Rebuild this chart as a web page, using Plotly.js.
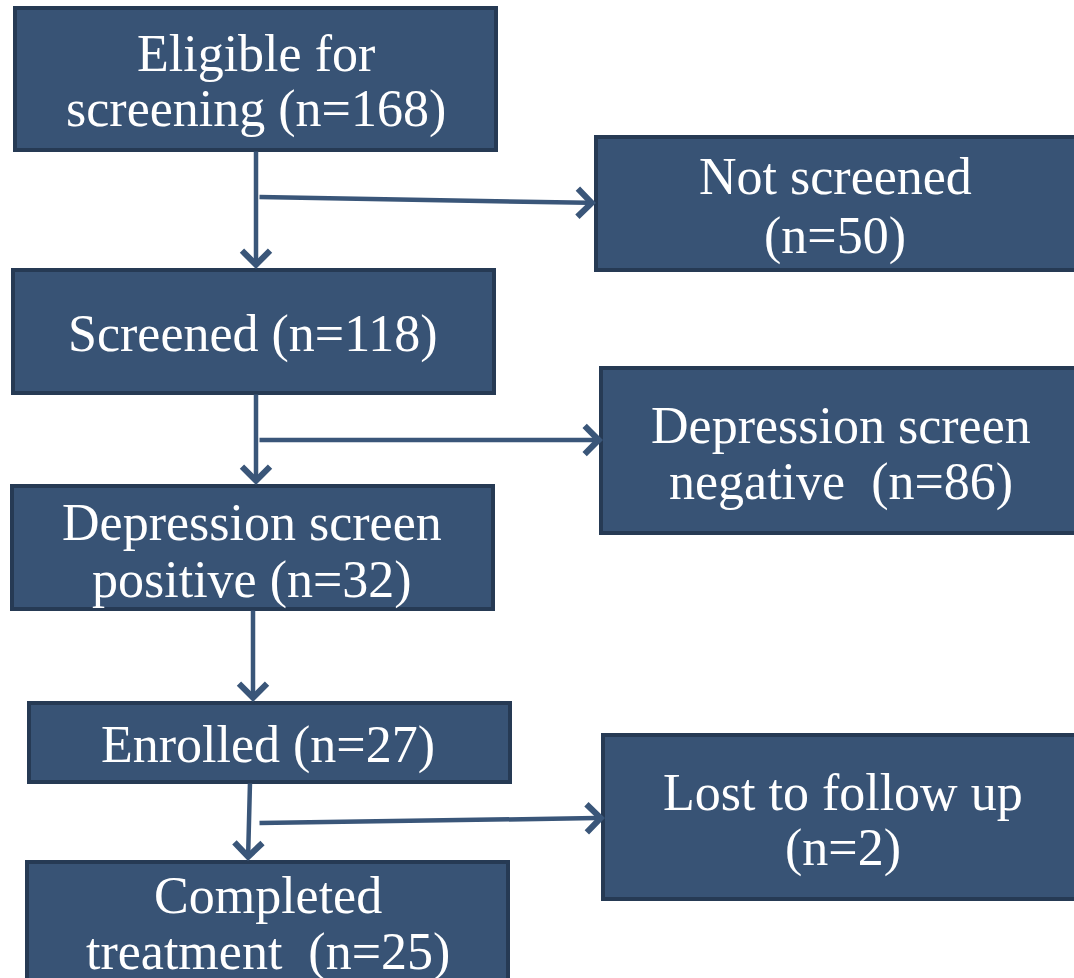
<!DOCTYPE html>
<html>
<head>
<meta charset="utf-8">
<script src="https://cdn.plot.ly/plotly-3.0.1.min.js"></script>
<style>html,body{margin:0;padding:0;background:#fff;}#chart{width:1074px;height:978px;}</style>
</head>
<body>
<div id="chart"></div>
<script>
// ---- Data: flowchart stages and counts ----
var stageNames = [
  ["Eligible for", "screening"],
  ["Not screened", ""],
  ["Screened", ""],
  ["Depression screen", "negative\u00a0"],
  ["Depression screen", "positive"],
  ["Enrolled", ""],
  ["Lost to follow up", ""],
  ["Completed", "treatment\u00a0"]
];
var stageCounts = [168, 50, 118, 86, 32, 27, 2, 25];
// which line the count goes on (0 = first, 1 = second)
var countLine = [1, 1, 0, 1, 1, 0, 1, 1];

// ---- Layout geometry (pixels) ----
var boxX0 = [15, 596, 13, 601, 12, 29, 603, 27];
var boxX1 = [496, 1082, 494, 1082, 493, 510, 1082, 508];
var boxY0 = [8, 137, 270, 368, 486, 703, 735, 862];
var boxY1 = [150, 270, 393, 533, 609, 782, 899, 990];
var textX = [256, 835, 253, 841, 252, 268, 843, 268];
var textY1 = [53, 176, 334, 425, 522, 745, 792, 895];
var textY2 = [109, 236, null, 482, 580, null, 848, 952];

// arrows: [tailX, tailY, headX, headY]
var arrowTailX = [256, 258, 256, 258, 253, 250, 258];
var arrowTailY = [150, 197, 393, 440, 609, 782, 823];
var arrowHeadX = [256, 596, 256, 603, 253, 248, 605];
var arrowHeadY = [269, 203, 485, 440, 702, 861, 818];

var fillColor = '#385375';
var borderColor = '#263a54';
var arrowColor = '#3a5679';

var shapes = [];
var annotations = [];
for (var i = 0; i < stageNames.length; i++) {
  shapes.push({
    type: 'rect', xref: 'x', yref: 'y',
    x0: boxX0[i], x1: boxX1[i], y0: boxY0[i], y1: boxY1[i],
    fillcolor: fillColor,
    line: {color: borderColor, width: 4},
    layer: 'below'
  });
  var lines = stageNames[i].slice();
  var cnt = '(n=' + stageCounts[i] + ')';
  if (countLine[i] === 0) {
    lines[0] = lines[0] + ' ' + cnt;
  } else {
    lines[1] = lines[1] ? lines[1] + ' ' + cnt : cnt;
  }
  var ys = [textY1[i], textY2[i]];
  for (var k = 0; k < 2; k++) {
    if (!lines[k] || ys[k] === null) continue;
    annotations.push({
      xref: 'x', yref: 'y', x: textX[i], y: ys[k],
      text: lines[k], showarrow: false,
      xanchor: 'center', yanchor: 'middle',
      font: {family: 'Liberation Serif, Times New Roman, serif', size: 52, color: '#ffffff'}
    });
  }
}

for (var j = 0; j < arrowTailX.length; j++) {
  annotations.push({
    xref: 'x', yref: 'y', axref: 'x', ayref: 'y',
    x: arrowHeadX[j], y: arrowHeadY[j],
    ax: arrowTailX[j], ay: arrowTailY[j],
    text: '', showarrow: true,
    arrowhead: 4, arrowsize: 1.2, arrowwidth: 4.5,
    arrowcolor: arrowColor, standoff: 0, startstandoff: 0
  });
}

var layout = {
  width: 1074, height: 978,
  margin: {l: 0, r: 0, t: 0, b: 0, pad: 0},
  paper_bgcolor: '#ffffff', plot_bgcolor: '#ffffff',
  showlegend: false,
  xaxis: {range: [0, 1074], visible: false, fixedrange: true},
  yaxis: {range: [978, 0], visible: false, fixedrange: true},
  shapes: shapes,
  annotations: annotations
};

Plotly.newPlot('chart', [], layout, {staticPlot: true, displayModeBar: false});
</script>
</body>
</html>
